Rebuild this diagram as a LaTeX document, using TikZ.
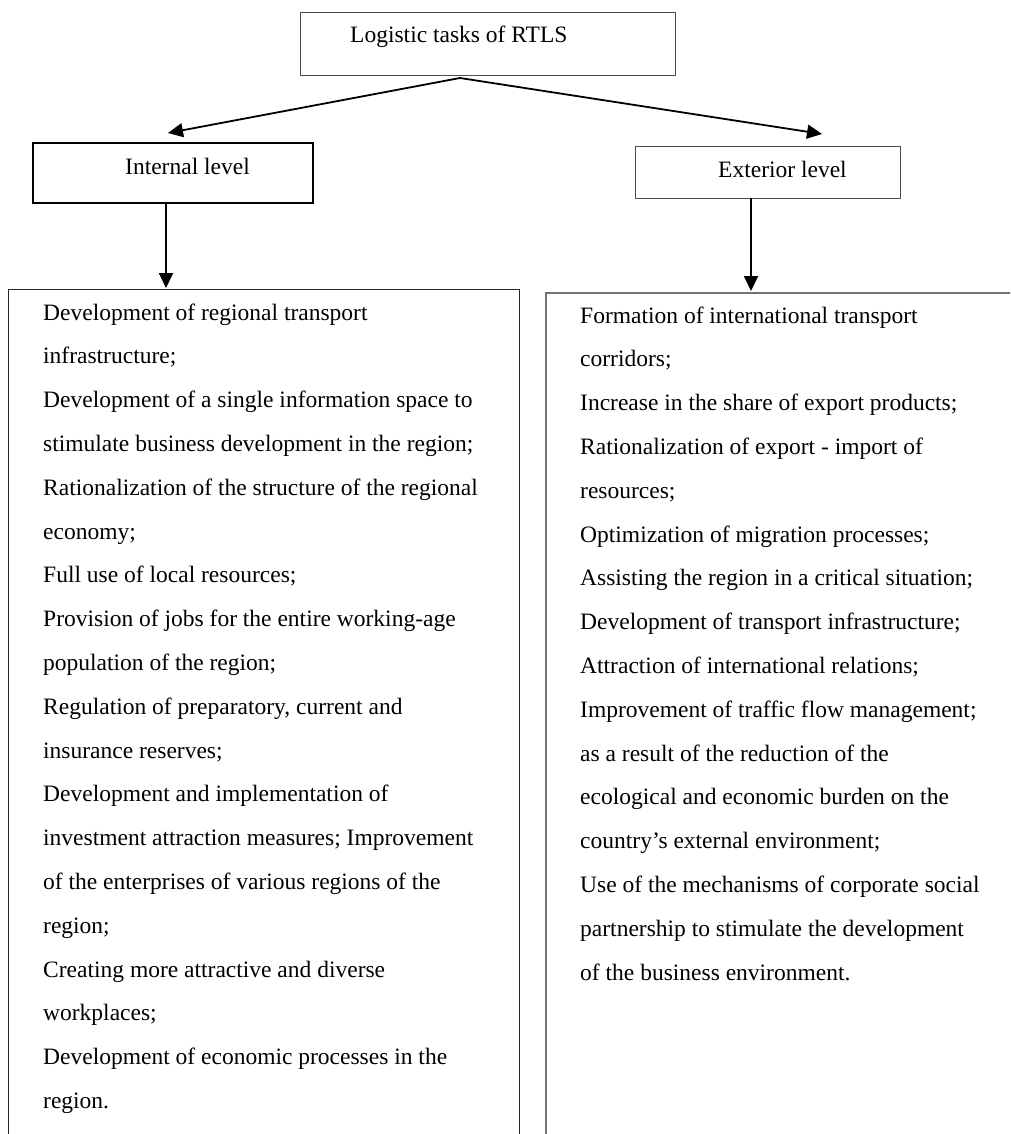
\documentclass[tikz,border=0pt]{standalone}
\usepackage{fontspec}
\setmainfont{Liberation Serif}
\usetikzlibrary{arrows.meta}
\begin{document}
\begin{tikzpicture}[x=1pt,y=-1pt,
  box/.style={draw=black!70, line width=1pt, inner sep=0, anchor=north west},
  arr/.style={line width=1.8pt, -{Triangle[length=15pt,width=14pt]}},
  txt/.style={inner sep=0, anchor=base west, font=\fontsize{23.5}{43.8}\selectfont}]
\useasboundingbox (0,0) rectangle (1010,1134);
\clip (0,0) rectangle (1010,1134);
% boxes
\node[box, minimum width=375, minimum height=63] (top) at (300,12) {};
\node[box, draw=black, line width=2pt, minimum width=280, minimum height=60] (int) at (32,142) {};
\node[box, minimum width=265, minimum height=52] (ext) at (635,146) {};
\node[box, draw=black!85, minimum width=511, minimum height=900] (L) at (8,289) {};
\node[box, draw=black!55, line width=1.6pt, minimum width=520, minimum height=900] (R) at (545,292) {};
% labels
\node[txt] (toptxt) at (350,43) {Logistic tasks of RTLS};
\node[txt] (inttxt) at (125,175) {Internal level};
\node[txt] (exttxt) at (718,178) {Exterior level};
\node[txt] (Ltxt) at (43,320) {\parbox[t]{520pt}{\raggedright
Development of regional transport\\
infrastructure;\\
Development of a single information space to\\
stimulate business development in the region;\\
Rationalization of the structure of the regional\\
economy;\\
Full use of local resources;\\
Provision of jobs for the entire working-age\\
population of the region;\\
Regulation of preparatory, current and\\
insurance reserves;\\
Development and implementation of\\
investment attraction measures; Improvement\\
of the enterprises of various regions of the\\
region;\\
Creating more attractive and diverse\\
workplaces;\\
Development of economic processes in the\\
region.}};
\node[txt] (Rtxt) at (580,323) {\parbox[t]{520pt}{\raggedright
Formation of international transport\\
corridors;\\
Increase in the share of export products;\\
Rationalization of export - import of\\
resources;\\
Optimization of migration processes;\\
Assisting the region in a critical situation;\\
Development of transport infrastructure;\\
Attraction of international relations;\\
Improvement of traffic flow management;\\
as a result of the reduction of the\\
ecological and economic burden on the\\
country's external environment;\\
Use of the mechanisms of corporate social\\
partnership to stimulate the development\\
of the business environment.}};
% connectors
\coordinate (src) at (460,78);
\coordinate (intin) at (168,133);
\coordinate (extin) at (822,134);
\coordinate (intout) at (166,202);
\coordinate (Lin) at (166,288);
\coordinate (extout) at (751,198);
\coordinate (Rin) at (751,291);
\draw[arr] (src) -- (intin);
\draw[arr] (src) -- (extin);
\draw[arr] (intout) -- (Lin);
\draw[arr] (extout) -- (Rin);
\end{tikzpicture}
\end{document}
